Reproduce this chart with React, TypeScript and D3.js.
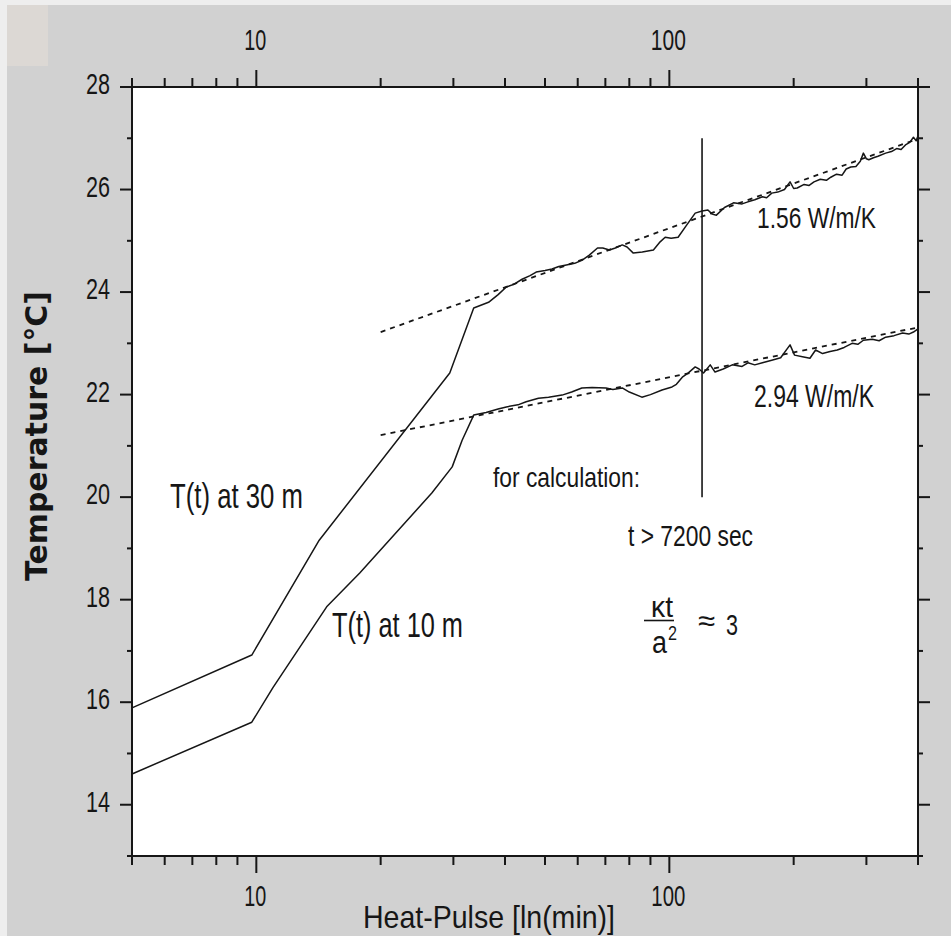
import React from 'react';
import * as d3 from 'd3';

const W = 951;
const H = 936;

// Axis ticks
const xMajorTicks = [10, 100];
const xMinorTicks = [5, 6, 7, 8, 9, 20, 30, 40, 50, 60, 70, 80, 90, 200, 300, 400];
const yMajorTicks = [14, 16, 18, 20, 22, 24, 26, 28];
const yMinorTicks = [13, 15, 17, 19, 21, 23, 25, 27];

// T(t) at 30 m
const time30 = [5, 9.75, 14.2, 29.4, 33.6, 36.5, 38.5, 40.3, 42, 44, 46, 47.6, 50, 52, 54, 56.3, 59, 61.4, 64, 67, 69, 71.6, 74, 76.9, 79, 81.8, 86, 91.5, 95, 97.7, 101, 105, 110, 115.5, 120, 124, 127, 130, 136, 143, 150, 155, 161, 168, 172, 177, 183, 190, 196, 200, 204, 212, 218, 224, 232, 240, 246, 254, 262, 268, 275, 283, 290, 295, 300, 304, 312, 320, 334, 345, 355, 364, 373, 382, 390, 396, 400];
const temp30 = [15.89, 16.92, 19.16, 22.42, 23.69, 23.8, 23.95, 24.1, 24.15, 24.25, 24.32, 24.39, 24.42, 24.45, 24.5, 24.53, 24.56, 24.62, 24.72, 24.86, 24.86, 24.82, 24.86, 24.92, 24.88, 24.76, 24.78, 24.82, 24.98, 25.07, 25.05, 25.07, 25.3, 25.54, 25.58, 25.6, 25.52, 25.5, 25.65, 25.74, 25.72, 25.76, 25.8, 25.86, 25.84, 25.93, 25.95, 26.0, 26.15, 26.02, 26.03, 26.1, 26.08, 26.15, 26.2, 26.18, 26.24, 26.3, 26.28, 26.4, 26.44, 26.45, 26.55, 26.71, 26.6, 26.58, 26.62, 26.65, 26.71, 26.74, 26.8, 26.78, 26.87, 26.92, 27.02, 26.95, 27.05];

// T(t) at 10 m
const time10 = [5, 9.75, 10.96, 14.8, 17.8, 26.6, 29.8, 31.5, 33.6, 36, 38.5, 40.3, 43, 45, 48.2, 51, 55, 58, 61.4, 65, 70.2, 73, 76.9, 80, 85.8, 90, 96, 101.5, 104, 107.5, 111, 115.5, 118, 121, 125.6, 129, 135, 142, 150, 155, 161, 168, 177, 186, 196, 201, 210, 219, 226, 235, 245, 255, 265, 277, 286, 295, 310, 322, 334, 350, 367, 380, 390, 400];
const temp10 = [14.6, 15.61, 16.28, 17.86, 18.52, 20.08, 20.59, 21.11, 21.6, 21.65, 21.72, 21.76, 21.8, 21.86, 21.93, 21.95, 21.99, 22.05, 22.13, 22.14, 22.13, 22.1, 22.13, 22.05, 21.95, 22.0, 22.09, 22.15, 22.2, 22.34, 22.42, 22.54, 22.5, 22.42, 22.58, 22.44, 22.5, 22.58, 22.55, 22.62, 22.58, 22.62, 22.67, 22.72, 22.97, 22.77, 22.74, 22.71, 22.87, 22.8, 22.84, 22.87, 22.92, 23.0, 22.98, 23.06, 23.08, 23.05, 23.12, 23.15, 23.2, 23.18, 23.22, 23.28];

// Linear fits (in ln time)
const fitTime = [20, 400];
const fit30 = [23.22, 26.99];
const fit10 = [21.21, 23.31];

// Marker t = 7200 s = 120 min
const markerTime = [120, 120];
const markerTemp = [20, 27];

const NARROW = "'Liberation Sans Narrow', 'Liberation Sans', Arial, sans-serif";
const INK = '#161616';

const x = d3.scaleLog().domain([5, 400]).range([132, 918]);
const y = d3.scaleLinear().domain([13, 28]).range([856, 87]);

type P = [number, number];
const line = d3
  .line<P>()
  .x((d) => x(d[0]))
  .y((d) => y(d[1]));

const zip = (a: number[], b: number[]): P[] => a.map((v, i) => [v, b[i]] as P);

const T = (props: {
  x: number;
  y: number;
  w: number;
  size: number;
  anchor?: 'start' | 'middle' | 'end';
  children: React.ReactNode;
}) => (
  <text
    x={props.x}
    y={props.y}
    fontSize={props.size}
    fontFamily={NARROW}
    fill={INK}
    textAnchor={props.anchor || 'start'}
    textLength={props.w}
    lengthAdjust="spacingAndGlyphs"
  >
    {props.children}
  </text>
);

export default function App() {
  const [x0, x1] = x.range();
  const [y0, y1] = y.range();
  const xMajLen = 17;
  const xMinLen = 9;
  const yMajLen = 12;
  const yMinLen = 5;
  const axisW = 2;

  return (
    <svg
      width={W}
      height={H}
      viewBox={`0 0 ${W} ${H}`}
      style={{ position: 'absolute', left: 0, top: 0, display: 'block' }}
    >
      <rect x={0} y={0} width={W} height={H} fill="#eeeeee" />
      <rect x={7} y={5} width={W - 7} height={H - 5} fill="#d1d1d1" />
      <rect x={7} y={5} width={41} height={61} fill="#dcd8d4" />

      {/* plot area */}
      <rect x={x0} y={y1} width={x1 - x0} height={y0 - y1} fill="#ffffff" />

      {/* fits */}
      <g fill="none" stroke={INK} strokeWidth={1.8} strokeDasharray="5 5">
        <path d={line(zip(fitTime, fit30)) || ''} />
        <path d={line(zip(fitTime, fit10)) || ''} />
      </g>

      {/* data */}
      <g fill="none" stroke={INK} strokeWidth={1.5} strokeLinejoin="round">
        <path d={line(zip(time30, temp30)) || ''} />
        <path d={line(zip(time10, temp10)) || ''} />
      </g>

      {/* marker */}
      <path d={line(zip(markerTime, markerTemp)) || ''} stroke={INK} strokeWidth={1.6} fill="none" />

      {/* axes frame */}
      <g stroke={INK} strokeWidth={axisW} fill="none">
        <line x1={x0} x2={x1} y1={y0} y2={y0} />
        <line x1={x0} x2={x1} y1={y1} y2={y1} />
        <line x1={x0} x2={x0} y1={y0} y2={y1} />
        <line x1={x1} x2={x1} y1={y0} y2={y1} />
        {xMajorTicks.map((t) => (
          <g key={'xM' + t}>
            <line x1={x(t)} x2={x(t)} y1={y0} y2={y0 + xMajLen} />
            <line x1={x(t)} x2={x(t)} y1={y1} y2={y1 - xMajLen} />
          </g>
        ))}
        {xMinorTicks.map((t) => (
          <g key={'xm' + t}>
            <line x1={x(t)} x2={x(t)} y1={y0} y2={y0 + xMinLen} />
            <line x1={x(t)} x2={x(t)} y1={y1} y2={y1 - xMinLen} />
          </g>
        ))}
        {yMajorTicks.map((t) => (
          <g key={'yM' + t}>
            <line x1={x0} x2={x0 - yMajLen} y1={y(t)} y2={y(t)} />
            <line x1={x1} x2={x1 + yMajLen} y1={y(t)} y2={y(t)} />
          </g>
        ))}
        {yMinorTicks.map((t) => (
          <g key={'ym' + t}>
            <line x1={x0} x2={x0 - yMinLen} y1={y(t)} y2={y(t)} />
            <line x1={x1} x2={x1 + yMinLen} y1={y(t)} y2={y(t)} />
          </g>
        ))}
      </g>

      {/* y tick labels */}
      {yMajorTicks.map((t) => (
        <T key={'yl' + t} x={110} y={y(t) + 7} w={24} size={30} anchor="end">
          {String(t)}
        </T>
      ))}

      {/* x tick labels: top and bottom */}
      {xMajorTicks.map((t) => (
        <g key={'xl' + t}>
          <T x={x(t) - 1} y={50} w={t < 100 ? 22 : 35} size={30} anchor="middle">
            {String(t)}
          </T>
          <T x={x(t) - 1} y={906} w={t < 100 ? 22 : 34} size={30} anchor="middle">
            {String(t)}
          </T>
        </g>
      ))}

      {/* axis titles */}
      <text
        transform="translate(47,436) rotate(-90)"
        textAnchor="middle"
        fontFamily="'DejaVu Sans', sans-serif"
        fontWeight="bold"
        fontSize={30}
        fill={INK}
        textLength={290}
        lengthAdjust="spacingAndGlyphs"
      >
        Temperature [°C]
      </text>
      <T x={363} y={928} w={252} size={32}>
        Heat-Pulse [ln(min)]
      </T>

      {/* annotations */}
      <T x={170} y={508} w={133} size={35}>T(t) at 30 m</T>
      <T x={332} y={637} w={131} size={35}>T(t) at 10 m</T>
      <T x={757} y={228} w={119} size={30}>1.56 W/m/K</T>
      <T x={754} y={407} w={120} size={31}>2.94 W/m/K</T>
      <T x={493} y={487} w={147} size={28}>for calculation:</T>
      <T x={628} y={546} w={125} size={29}>t &gt; 7200 sec</T>

      {/* kappa t / a^2 ≈ 3 */}
      <T x={651} y={617} w={22} size={30}>κt</T>
      <line x1={644} x2={674} y1={620.5} y2={620.5} stroke={INK} strokeWidth={1.6} />
      <T x={652} y={653} w={15} size={31}>a</T>
      <T x={668} y={640} w={9} size={21}>2</T>
      <T x={698} y={631} w={17} size={30}>≈</T>
      <T x={726} y={635} w={12} size={30}>3</T>
    </svg>
  );
}
